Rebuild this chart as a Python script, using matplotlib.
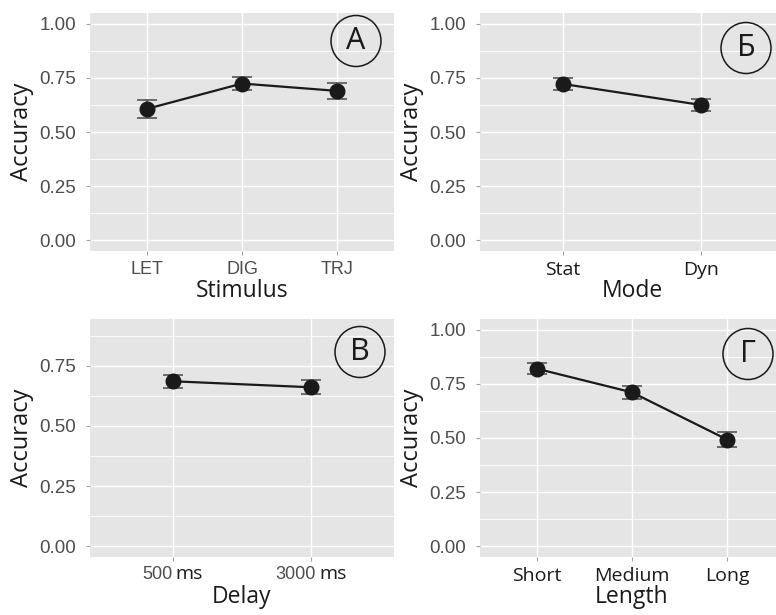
import matplotlib
matplotlib.use("Agg")
import matplotlib.pyplot as plt
from matplotlib.patches import Ellipse
from matplotlib.offsetbox import TextArea, HPacker, AnnotationBbox
from matplotlib.ticker import MultipleLocator, FixedLocator

# accuracy means and error half-widths per factor
stim_levels = ["LET", "DIG", "TRJ"]
stim_acc = [0.607, 0.724, 0.690]
stim_err = [0.040, 0.031, 0.036]

mode_levels = ["Stat", "Dyn"]
mode_acc = [0.722, 0.625]
mode_err = [0.027, 0.028]

delay_num = ["500", "3000"]
delay_unit = "ms"
delay_acc = [0.686, 0.661]
delay_err = [0.028, 0.029]

length_levels = ["Short", "Medium", "Long"]
length_acc = [0.820, 0.711, 0.493]
length_err = [0.025, 0.030, 0.035]

W, H = 776, 615
BG = "#e5e5e6"
SANS = "Open Sans"
TICK_GREY = "#4d4d4d"

fig = plt.figure(figsize=(W / 100, H / 100), dpi=100)
fig.patch.set_facecolor("white")


def px_axes(x0, y0, x1, y1):
    # axes placed from pixel box (top-left origin)
    return fig.add_axes([x0 / W, 1 - y1 / H, (x1 - x0) / W, (y1 - y0) / H])


def panel(ax, n, acc, err, xlabel, ylim, yticks, ticklabels=None, tick_font="arial"):
    xs = list(range(n))
    ax.set_facecolor(BG)
    ax.errorbar(xs, acc, yerr=err, fmt="none", ecolor="#555555", elinewidth=1.2,
                capsize=7.5, capthick=1.2, zorder=3)
    ax.plot(xs, acc, color="#1a1a1a", lw=1.6, zorder=4)
    ax.plot(xs, acc, "o", color="#1a1a1a", ms=10.5, zorder=5)
    ax.set_xlim(-0.6, n - 1 + 0.6)
    ax.set_ylim(*ylim)
    ax.yaxis.set_major_locator(FixedLocator(yticks))
    ax.yaxis.set_minor_locator(MultipleLocator(0.125))
    ax.set_yticklabels([f"{t:.2f}" for t in yticks], fontsize=13.5,
                       color=TICK_GREY, family="Liberation Sans")
    ax.set_xticks(xs)
    if ticklabels is None:
        ax.set_xticklabels([""] * n)
    elif tick_font == "arial":
        ax.set_xticklabels(ticklabels, fontsize=13, color=TICK_GREY,
                           family="Liberation Sans")
    else:
        ax.set_xticklabels(ticklabels, fontsize=14, color="#1a1a1a", family=SANS)
    ax.grid(which="major", color="white", lw=1.0)
    ax.grid(which="minor", axis="y", color="white", lw=0.6)
    ax.set_axisbelow(True)
    for s in ax.spines.values():
        s.set_visible(False)
    ax.tick_params(which="major", length=3, width=0.8, color="#a0a0a0")
    ax.tick_params(axis="y", pad=7)
    ax.tick_params(axis="x", pad=4)
    ax.tick_params(which="minor", length=0)
    ax.set_xlabel(xlabel, fontsize=16.5, family=SANS, color="#1a1a1a")
    ax.xaxis.set_label_coords(0.5, -40 / 238)
    ax.xaxis.label.set_va("center")
    ax.set_ylabel("Accuracy", fontsize=17, family=SANS, color="#1a1a1a")
    ax.yaxis.set_label_coords(-68 / 304, 0.5)
    ax.yaxis.label.set_va("center")


def badge(cx, cy, letter):
    fig.add_artist(Ellipse((cx / W, 1 - cy / H), 50 / W, 51 / H,
                           transform=fig.transFigure, fill=False,
                           ec="#1a1a1a", lw=1.1))
    fig.text(cx / W, 1 - cy / H, letter, ha="center", va="center",
             fontsize=22, family=SANS, color="#1a1a1a")


full = (-0.05, 1.05)
ticks_full = [0.0, 0.25, 0.5, 0.75, 1.0]

ax1 = px_axes(90, 13, 394, 251)
panel(ax1, 3, stim_acc, stim_err, "Stimulus", full, ticks_full, stim_levels)

ax2 = px_axes(480, 13, 784, 251)
panel(ax2, 2, mode_acc, mode_err, "Mode", full, ticks_full, mode_levels, tick_font="sans")

ax3 = px_axes(90, 319, 394, 557)
panel(ax3, 2, delay_acc, delay_err, "Delay", (-0.045, 0.945), [0.0, 0.25, 0.5, 0.75])
# delay tick labels: grey number followed by the unit in the body font
for i, num in enumerate(delay_num):
    box = HPacker(children=[
        TextArea(num, textprops=dict(fontsize=13, color=TICK_GREY, family="Liberation Sans")),
        TextArea(delay_unit, textprops=dict(fontsize=14, color="#1a1a1a", family=SANS)),
    ], sep=2, align="baseline")
    ab = AnnotationBbox(box, (i, 0), xycoords=ax3.get_xaxis_transform(),
                        xybox=(0, -6), boxcoords="offset points",
                        box_alignment=(0.5, 1), frameon=False, pad=0,
                        annotation_clip=False)
    ax3.add_artist(ab)

ax4 = px_axes(480, 319, 784, 557)
panel(ax4, 3, length_acc, length_err, "Length", full, ticks_full, length_levels,
      tick_font="sans")

badge(356, 41, "А")
badge(746, 48, "Б")
badge(360, 352, "В")
badge(748, 354, "Г")

fig.savefig("out.png", dpi=100, facecolor="white")
